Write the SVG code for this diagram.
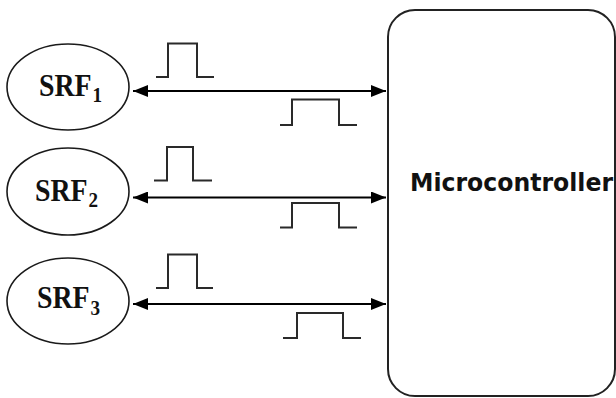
<svg xmlns="http://www.w3.org/2000/svg" width="616" height="398" viewBox="0 0 616 398">
  <style>
    .sensor { fill: #ffffff; stroke: #1a1a1a; stroke-width: 1.6; }
    .mcu { fill: #ffffff; stroke: #222222; stroke-width: 2; }
    .srf { font-family: "Liberation Serif", "Times New Roman", serif; font-weight: bold; font-size: 32px; fill: #111111; }
    .sub { font-size: 22px; }
    .mcu-label { font-family: "DejaVu Sans", "Liberation Sans", sans-serif; font-weight: bold; font-size: 24px; fill: #111111; }
    .link { fill: none; stroke: #000000; stroke-width: 1.8; marker-start: url(#head); marker-end: url(#head); }
    .pulse { fill: none; stroke: #2a2a2a; stroke-width: 2; }
  </style>
  <defs>
    <marker id="head" markerUnits="userSpaceOnUse" markerWidth="16" markerHeight="12" refX="15" refY="6" orient="auto-start-reverse">
      <path d="M0,0 L15,6 L0,12 z" fill="#000000"/>
    </marker>
  </defs>

  <rect width="616" height="398" fill="#ffffff"/>

  <!-- Microcontroller block -->
  <g id="microcontroller">
    <rect class="mcu" x="388" y="10" width="227" height="386" rx="27" ry="27"/>
    <text class="mcu-label" x="410" y="191" textLength="203" lengthAdjust="spacingAndGlyphs">Microcontroller</text>
  </g>

  <!-- Ultrasonic range finder sensors (labels narrowed horizontally) -->
  <g id="srf1">
    <ellipse class="sensor" cx="68" cy="87" rx="61" ry="43"/>
    <text class="srf" transform="matrix(0.87 0 0 1 39 96)">SRF<tspan class="sub" dx="1" dy="6">1</tspan></text>
  </g>
  <g id="srf2">
    <ellipse class="sensor" cx="68" cy="191.5" rx="61" ry="43.5"/>
    <text class="srf" transform="matrix(0.87 0 0 1 35 201)">SRF<tspan class="sub" dx="1" dy="6">2</tspan></text>
  </g>
  <g id="srf3">
    <ellipse class="sensor" cx="68" cy="301" rx="61" ry="43"/>
    <text class="srf" transform="matrix(0.87 0 0 1 37 308)">SRF<tspan class="sub" dx="1" dy="7">3</tspan></text>
  </g>

  <!-- Bidirectional links between each sensor and the microcontroller -->
  <g id="connectors">
    <line class="link" x1="133" y1="91" x2="386" y2="91"/>
    <line class="link" x1="133" y1="197.5" x2="386" y2="197.5"/>
    <line class="link" x1="133" y1="304" x2="386" y2="304"/>
  </g>

  <!-- Trigger pulses (above) and echo pulses (below) -->
  <g id="signals">
    <path class="pulse" d="M156,77 H168 V43.5 H197 V77 H214"/>
    <path class="pulse" d="M280,125 H292 V99.5 H339 V125 H357"/>
    <path class="pulse" d="M154,180.5 H167 V147 H193 V180.5 H212"/>
    <path class="pulse" d="M280,227.5 H292 V203 H339 V227.5 H357"/>
    <path class="pulse" d="M156,288 H168 V254.5 H197 V288 H213"/>
    <path class="pulse" d="M283,338 H297 V313 H343 V338 H361"/>
  </g>
</svg>
